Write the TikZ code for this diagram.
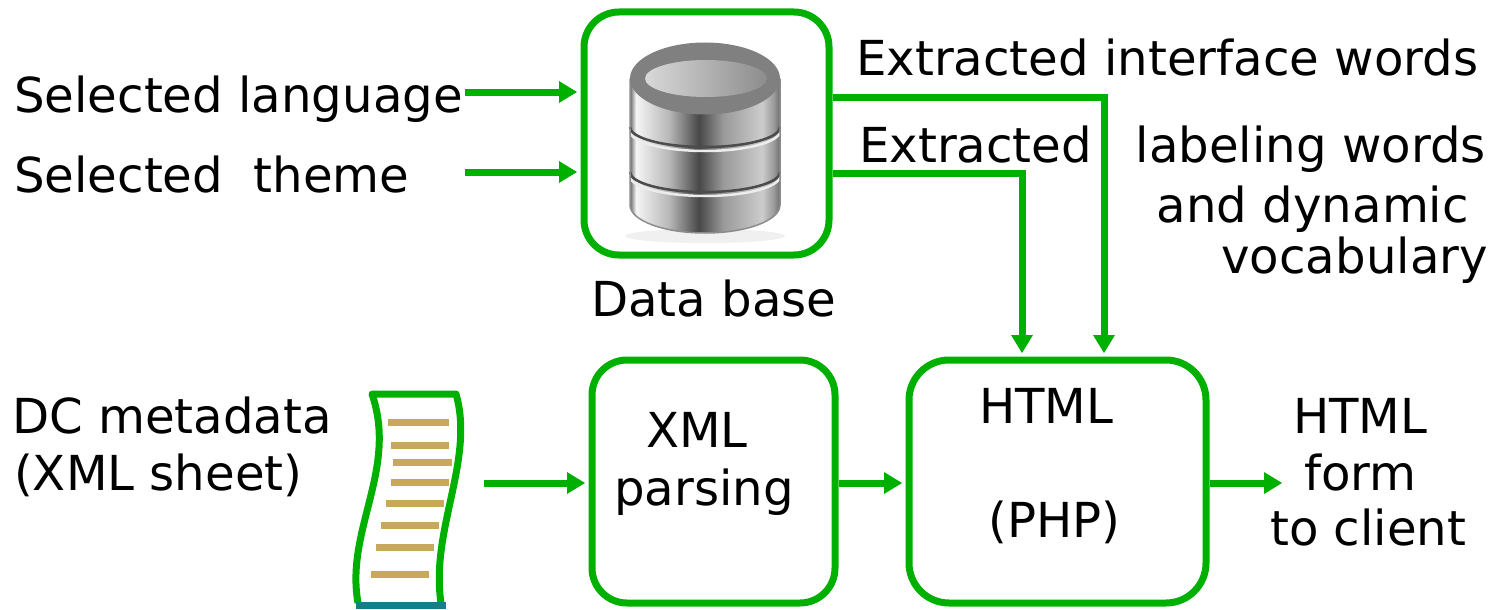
\documentclass[tikz,border=0pt]{standalone}
\usepackage{fontspec}
\setmainfont{DejaVu Sans}
\usetikzlibrary{arrows.meta}
\definecolor{grn}{RGB}{0,176,0}
\definecolor{doctan}{RGB}{200,168,90}
\definecolor{docteal}{RGB}{18,128,140}
\definecolor{cga}{gray}{0.42}
\definecolor{cgb}{gray}{0.96}
\definecolor{cgc}{gray}{0.72}
\definecolor{cgd}{gray}{0.28}
\definecolor{cge}{gray}{0.6}
\definecolor{cgf}{gray}{0.8}
\definecolor{cgg}{gray}{0.6}
\pgfdeclarehorizontalshading{cylbody}{100bp}{color(0bp)=(cga); color(25bp)=(cga); color(27bp)=(cgb); color(38bp)=(cgc); color(48bp)=(cgd); color(56bp)=(cge); color(69bp)=(cgf); color(73bp)=(cgg); color(75bp)=(cga); color(100bp)=(cga)}
\begin{document}
\begin{tikzpicture}[x=1pt,y=-1pt,
  box/.style={draw=grn,line width=7pt,rounded corners=#1,inner sep=0pt,fill=white},
  txt/.style={inner sep=0pt,font=\fontsize{48.2}{58}\selectfont},
  arr/.style={draw=grn,line width=7pt,-{Triangle[length=18pt,width=22pt,line width=0pt]}},
  docline/.style={draw=doctan,line width=7pt},
]
\useasboundingbox (0,0) rectangle (1496,610);

% boxes
\node[box=35pt,minimum width=245pt,minimum height=243pt] (db) at (706.5,133.5) {};
\node[box=35pt,minimum width=243pt,minimum height=243pt] (xml) at (713.5,481.5) {};
\node[box=40pt,minimum width=297pt,minimum height=243pt] (html) at (1057.5,481.5) {};

% database icon
\fill[black!6] (705,236) ellipse [x radius=80, y radius=7];
\path[shading=cylbody] (630,78.5) -- (630,205) arc[start angle=180,end angle=0,x radius=75,y radius=28] -- (780,78.5) -- cycle;
\draw[white!85!gray,line width=2.5pt] (630,131) arc[start angle=180,end angle=0,x radius=75,y radius=20];
\draw[black!70,line width=2.5pt] (630,127) arc[start angle=180,end angle=0,x radius=75,y radius=20];
\draw[white!85!gray,line width=2.5pt] (630,176) arc[start angle=180,end angle=0,x radius=75,y radius=20];
\draw[black!70,line width=2.5pt] (630,172) arc[start angle=180,end angle=0,x radius=75,y radius=20];
\draw[black!45,line width=1.5pt] (630,78.5) -- (630,205) arc[start angle=180,end angle=0,x radius=75,y radius=28] -- (780,78.5);
\fill[black!50] (705,78.5) ellipse [x radius=75, y radius=36];
\shade[left color=black!15,right color=black!45] (706,78.5) ellipse [x radius=61, y radius=18.5];

% document icon
\foreach \yy/\xa/\xb in {422.7/388/449, 445/391/449, 462.3/393/452, 482.7/391/449, 503.3/386/444, 525.3/381/439, 547.3/376/434, 574/371/429}
  \draw[docline] (\xa,\yy) -- (\xb,\yy);
\draw[grn,line width=7pt,line join=round] (358,603) .. controls (345,530) and (398,470) .. (372,394) -- (456,394) .. controls (475,460) and (430,530) .. (441,603);
\draw[docteal,line width=7pt] (356,605.5) -- (446,605.5);

% texts
\node[txt,anchor=base west] (lang) at (14,112) {Selected language};
\node[txt,anchor=base west] (theme) at (14,192) {Selected\ \ theme};
\node[txt,anchor=base west] (eiw) at (856,75) {Extracted interface words};
\node[txt,anchor=base west] (ext) at (859,162) {Extracted};
\node[txt,anchor=base east] (lab1) at (1486,162) {labeling words};
\node[txt,anchor=base east] (lab2) at (1469,222) {and dynamic};
\node[txt,anchor=base east] (lab3) at (1488,273) {vocabulary};
\node[txt,anchor=base west] (dbl) at (591,316) {Data base};
\node[txt,anchor=base west] (dc1) at (12,433) {DC metadata};
\node[txt,anchor=base west] (dc2) at (14,490) {(XML sheet)};
\node[txt,anchor=base west] (xm1) at (646,447) {XML};
\node[txt,anchor=base west] (xm2) at (614,505) {parsing};
\node[txt,anchor=base west] (ht1) at (979,423) {HTML};
\node[txt,anchor=base west] (ht2) at (988,537) {(PHP)};
\node[txt,anchor=base west] (o1) at (1293,433) {HTML};
\node[txt,anchor=base west] (o2) at (1304,490) {form};
\node[txt,anchor=base west] (o3) at (1270,545) {to client};

% connectors
\coordinate (la) at (465,92);
\coordinate (th) at (465,172);
\coordinate (ya) at (0,97);
\coordinate (yb) at (0,173);
\coordinate (xa) at (1104,0);
\coordinate (xb) at (1022,0);
\coordinate (ds) at (484,483);
\coordinate (my) at (0,483);
\coordinate (out) at (1282,483);
\draw[arr,shorten >=3.5pt] (la) -- (db.west |- la);
\draw[arr,shorten >=3.5pt] (th) -- (db.west |- th);
\draw[arr,shorten >=3.5pt] (db.east |- ya) -| (html.north -| xa);
\draw[arr,shorten >=3.5pt] (db.east |- yb) -| (html.north -| xb);
\draw[arr,shorten >=3.5pt] (ds) -- (xml.west |- ds);
\draw[arr,shorten >=3.5pt] (xml.east |- my) -- (html.west |- my);
\draw[arr] (html.east |- my) -- (out);
\end{tikzpicture}
\end{document}
